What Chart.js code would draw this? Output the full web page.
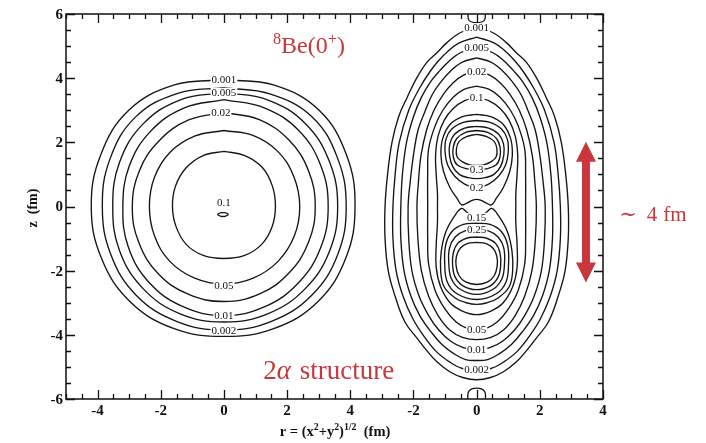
<!DOCTYPE html>
<html>
<head>
<meta charset="utf-8">
<script src="https://cdn.jsdelivr.net/npm/chart.js@4.4.1/dist/chart.umd.min.js"></script>
<style>
  body { margin: 0; background: #fff; }
  canvas { display: block; }
</style>
</head>
<body>
<canvas id="densityChart" width="706" height="443"></canvas>
<script>
// axis ticks: the right panel uses the same r axis shifted by 8 fm
var xTickValues = [-4, -2, 0, 2, 4, 6, 8, 10, 12];
var xTickLabels = ['-4', '-2', '0', '2', '4', '-2', '0', '2', '4'];
var yTickValues = [-6, -4, -2, 0, 2, 4, 6];
var yTickLabels = ['-6', '-4', '-2', '0', '2', '4', '6'];
var panelShift = 8;

// left panel: nearly round contours, radius (fm) every 22.5 deg starting at the top, counter-clockwise
var roundLevels = ['0.001', '0.002', '0.005', '0.01', '0.02', '0.05', '0.08'];
var roundRadii = [
  [3.95, 4.1, 4.25, 4.22, 4.2, 4.2, 4.2, 4.12, 4.05, 4.12, 4.2, 4.18, 4.15, 4.2, 4.25, 4.1],
  [3.7, 3.82, 3.95, 3.9, 3.85, 3.88, 3.92, 3.88, 3.85, 3.88, 3.92, 3.9, 3.87, 3.9, 3.95, 3.8],
  [3.55, 3.6, 3.63, 3.58, 3.52, 3.58, 3.62, 3.62, 3.6, 3.62, 3.63, 3.62, 3.6, 3.62, 3.65, 3.6],
  [3.33, 3.32, 3.3, 3.25, 3.2, 3.28, 3.35, 3.38, 3.4, 3.38, 3.35, 3.32, 3.3, 3.32, 3.35, 3.33],
  [2.93, 2.92, 2.9, 2.9, 2.9, 2.92, 2.95, 2.96, 2.96, 2.95, 2.92, 2.9, 2.89, 2.9, 2.92, 2.93],
  [2.37, 2.38, 2.4, 2.38, 2.36, 2.38, 2.42, 2.42, 2.42, 2.42, 2.42, 2.41, 2.4, 2.4, 2.42, 2.4],
  [1.72, 1.72, 1.7, 1.66, 1.63, 1.64, 1.68, 1.66, 1.62, 1.66, 1.68, 1.65, 1.63, 1.66, 1.72, 1.72]
];
// small 0.1 contour at the centre
var coreCenter = [-0.03, -0.25];
var coreRadii = [0.06, 0.08, 0.17, 0.08, 0.06, 0.08, 0.17, 0.08];

// right panel: [z, half width] along the left half of each contour, top to bottom
var shellLevels = ['0.001', '0.002', '0.005', '0.01', '0.02', '0.05', '0.1'];
var shellProfiles = [
  [[5.6, 0], [5.4, 0.55], [5.1, 0.95], [4.8, 1.25], [4.5, 1.57], [4.0, 1.9], [3.4, 2.2], [2.8, 2.47], [2.0, 2.68], [1.0, 2.82], [0, 2.9], [-1, 2.9], [-2, 2.8], [-2.8, 2.58], [-3.6, 2.27], [-4.1, 1.89], [-4.5, 1.57], [-4.85, 1.25], [-5.15, 0.85], [-5.33, 0.44], [-5.4, 0]],
  [[5.28, 0], [5.1, 0.55], [4.85, 0.9], [4.55, 1.2], [4.2, 1.48], [3.7, 1.8], [3.0, 2.15], [2.0, 2.45], [1.0, 2.58], [0, 2.65], [-1, 2.65], [-2, 2.55], [-2.8, 2.33], [-3.5, 2.02], [-4.0, 1.7], [-4.5, 1.3], [-4.85, 0.85], [-5.05, 0.45], [-5.1, 0]],
  [[4.94, 0], [4.8, 0.5], [4.55, 0.85], [4.25, 1.15], [3.9, 1.45], [3.4, 1.75], [2.8, 2.0], [2.0, 2.22], [1.0, 2.35], [0, 2.4], [-1, 2.4], [-2, 2.3], [-2.8, 2.08], [-3.4, 1.8], [-3.9, 1.45], [-4.3, 1.1], [-4.6, 0.7], [-4.77, 0.35], [-4.8, 0]],
  [[4.63, 0], [4.5, 0.45], [4.25, 0.8], [3.9, 1.12], [3.5, 1.4], [3.0, 1.62], [2.4, 1.85], [1.6, 2.0], [0.8, 2.1], [0, 2.17], [-1, 2.15], [-2, 2.05], [-2.8, 1.82], [-3.4, 1.52], [-3.85, 1.2], [-4.2, 0.82], [-4.4, 0.42], [-4.47, 0]],
  [[4.21, 0], [4.1, 0.4], [3.85, 0.75], [3.5, 1.05], [3.0, 1.35], [2.4, 1.58], [1.6, 1.76], [0.8, 1.84], [0, 1.89], [-1, 1.86], [-2, 1.75], [-2.8, 1.52], [-3.4, 1.22], [-3.85, 0.85], [-4.08, 0.45], [-4.15, 0]],
  [[3.75, 0], [3.65, 0.4], [3.4, 0.75], [3.0, 1.07], [2.5, 1.32], [1.8, 1.52], [1.0, 1.55], [0, 1.55], [-1, 1.55], [-1.8, 1.52], [-2.6, 1.32], [-3.2, 1.0], [-3.6, 0.65], [-3.8, 0.3], [-3.84, 0]],
  [[3.39, 0], [3.3, 0.38], [3.05, 0.75], [2.7, 1.02], [2.2, 1.22], [1.6, 1.3], [1.0, 1.28], [0.4, 1.24], [0, 1.24], [-0.5, 1.24], [-1.2, 1.28], [-1.9, 1.28], [-2.5, 1.14], [-3.0, 0.84], [-3.25, 0.47], [-3.37, 0]]
];
// contours closing around one alpha each
var clusterLevels = ['0.15', '0.2', '0.25', '0.3', '0.35', '0.15', '0.2', '0.25', '0.3', '0.35'];
var clusterProfiles = [
  [[2.87, 0], [2.8, 0.45], [2.55, 0.85], [2.1, 1.08], [1.6, 1.13], [1.1, 1.05], [0.6, 0.85], [0.25, 0.62], [0.05, 0.47], [0.12, 0.28], [0.2, 0.12], [0.22, 0]],
  [[2.68, 0], [2.62, 0.42], [2.42, 0.78], [2.1, 0.97], [1.7, 1.0], [1.3, 0.92], [0.95, 0.7], [0.7, 0.38], [0.59, 0]],
  [[2.5, 0], [2.44, 0.38], [2.25, 0.7], [1.95, 0.85], [1.6, 0.86], [1.25, 0.76], [1.0, 0.55], [0.9, 0.27], [0.87, 0]],
  [[2.37, 0], [2.31, 0.35], [2.12, 0.63], [1.85, 0.74], [1.55, 0.74], [1.3, 0.62], [1.18, 0.34], [1.15, 0]],
  [[2.25, 0], [2.18, 0.32], [2.02, 0.56], [1.8, 0.64], [1.55, 0.62], [1.4, 0.46], [1.3, 0.22], [1.28, 0]],
  [[-0.34, 0], [-0.3, 0.15], [-0.17, 0.32], [-0.06, 0.48], [-0.3, 0.7], [-0.8, 0.98], [-1.4, 1.12], [-2.0, 1.14], [-2.5, 1.03], [-2.85, 0.68], [-3.0, 0.33], [-3.05, 0]],
  [[-0.52, 0], [-0.56, 0.42], [-0.78, 0.78], [-1.2, 0.98], [-1.8, 1.01], [-2.35, 0.93], [-2.72, 0.62], [-2.9, 0]],
  [[-0.72, 0], [-0.76, 0.37], [-0.95, 0.68], [-1.3, 0.86], [-1.8, 0.88], [-2.25, 0.8], [-2.58, 0.52], [-2.74, 0]],
  [[-0.95, 0], [-0.99, 0.32], [-1.15, 0.6], [-1.45, 0.74], [-1.85, 0.76], [-2.2, 0.68], [-2.48, 0.42], [-2.59, 0]],
  [[-1.12, 0], [-1.15, 0.28], [-1.3, 0.52], [-1.55, 0.64], [-1.85, 0.65], [-2.15, 0.56], [-2.35, 0.35], [-2.43, 0]]
];
// little contours touching the top and bottom frame at r = 0
var edgeProfiles = [
  [[6.05, 0.28], [5.8, 0.24], [5.73, 0]],
  [[-6.05, 0.28], [-5.76, 0.25], [-5.66, 0]]
];

// printed contour values: [x, z, text]
var contourLabels = [
  [0, 3.96, '0.001'], [0, 3.56, '0.005'], [-0.1, 2.93, '0.02'], [0, 0.12, '0.1'],
  [0, -2.47, '0.05'], [0, -3.4, '0.01'], [0, -3.87, '0.002'],
  [8, 5.57, '0.001'], [8, 4.94, '0.005'], [8, 4.21, '0.02'], [8, 3.39, '0.1'],
  [8, 1.15, '0.3'], [8, 0.59, '0.2'], [8, -0.34, '0.15'], [8, -0.72, '0.25'],
  [8, -3.83, '0.05'], [8, -4.45, '0.01'], [8, -5.08, '0.002']
];

function ringPoints(radii, cx, cz) {
  var n = radii.length;
  var pts = radii.map(function (r, i) {
    var a = Math.PI / 2 + i * 2 * Math.PI / n;
    return { x: cx + r * Math.cos(a), y: cz + r * Math.sin(a) };
  });
  pts.push(pts[0]);
  return pts;
}

function profilePoints(prof, cx) {
  var pts = prof.map(function (p) { return { x: cx - p[1], y: p[0] }; });
  for (var i = prof.length - 1; i >= 0; i--) {
    if (prof[i][1] === 0) continue;
    pts.push({ x: cx + prof[i][1], y: prof[i][0] });
  }
  pts.push(pts[0]);
  return pts;
}

function openProfile(prof, cx) {
  var pts = prof.map(function (p) { return { x: cx - p[1], y: p[0] }; });
  for (var i = prof.length - 2; i >= 0; i--) {
    pts.push({ x: cx + prof[i][1], y: prof[i][0] });
  }
  return pts;
}

function contour(points, label) {
  return {
    label: label,
    data: points,
    showLine: true,
    borderColor: '#151515',
    borderWidth: 1.35,
    pointRadius: 0,
    tension: 0.4,
    fill: false
  };
}

var datasets = [];
roundRadii.forEach(function (r, i) {
  datasets.push(contour(ringPoints(r, 0, 0), roundLevels[i]));
});
datasets.push(contour(ringPoints(coreRadii, coreCenter[0], coreCenter[1]), '0.1'));
shellProfiles.forEach(function (p, i) {
  datasets.push(contour(profilePoints(p, panelShift), shellLevels[i]));
});
clusterProfiles.forEach(function (p, i) {
  datasets.push(contour(profilePoints(p, panelShift), clusterLevels[i]));
});
edgeProfiles.forEach(function (p) {
  datasets.push(contour(openProfile(p, panelShift), 'edge'));
});

var serif = '"Liberation Serif", "DejaVu Serif", serif';
var red = '#c9363b';

// draws text runs (plain, italic, superscript or a fixed gap) centred on x
function drawRuns(ctx, x, y, runs, size, weight) {
  function fontOf(r) {
    var s = r.sup ? size * 0.68 : size;
    return (r.italic ? 'italic ' : '') + (weight || '') + ' ' + s + 'px ' + serif;
  }
  var w = 0;
  runs.forEach(function (r) {
    if (r.gap) { r.w = r.gap; } else { ctx.font = fontOf(r); r.w = ctx.measureText(r.t).width; }
    w += r.w;
  });
  var cx = x - w / 2;
  ctx.textAlign = 'left';
  ctx.textBaseline = 'alphabetic';
  runs.forEach(function (r) {
    if (!r.gap) {
      ctx.font = fontOf(r);
      ctx.fillText(r.t, cx, r.sup ? y - size * 0.4 : y);
    }
    cx += r.w;
  });
}

var framePlugin = {
  id: 'frame',
  afterDatasetsDraw: function (chart) {
    var ctx = chart.ctx;
    var xs = chart.scales.x, ys = chart.scales.y;
    ctx.save();
    ctx.font = '11px ' + serif;
    ctx.textAlign = 'center';
    ctx.textBaseline = 'middle';
    contourLabels.forEach(function (l) {
      var px = xs.getPixelForValue(l[0]), py = ys.getPixelForValue(l[1]);
      var w = ctx.measureText(l[2]).width;
      ctx.fillStyle = '#fff';
      ctx.fillRect(px - w / 2 - 1, py - 4.5, w + 2, 9);
      ctx.fillStyle = '#111';
      ctx.fillText(l[2], px, py + 0.5);
    });
    ctx.restore();
  },
  afterDraw: function (chart) {
    var ctx = chart.ctx;
    var a = chart.chartArea;
    var xs = chart.scales.x, ys = chart.scales.y;
    ctx.save();
    ctx.strokeStyle = '#111';
    ctx.lineWidth = 1.5;
    ctx.strokeRect(a.left, a.top, a.right - a.left, a.bottom - a.top);
    ctx.lineWidth = 1.3;
    ctx.beginPath();
    for (var v = xs.min; v <= xs.max + 1e-6; v += 0.5) {
      var len = xTickValues.indexOf(v) >= 0 ? 9 : 5;
      var px = Math.round(xs.getPixelForValue(v)) + 0.5;
      ctx.moveTo(px, a.bottom); ctx.lineTo(px, a.bottom - len);
      ctx.moveTo(px, a.top); ctx.lineTo(px, a.top + len);
    }
    for (var z = ys.min; z <= ys.max + 1e-6; z += 0.5) {
      var zl = yTickValues.indexOf(z) >= 0 ? 9 : 5;
      var py = Math.round(ys.getPixelForValue(z)) + 0.5;
      ctx.moveTo(a.left, py); ctx.lineTo(a.left + zl, py);
      ctx.moveTo(a.right, py); ctx.lineTo(a.right - zl, py);
    }
    ctx.stroke();

    // tick labels
    ctx.fillStyle = '#111';
    ctx.font = 'bold 15px ' + serif;
    ctx.textAlign = 'center';
    ctx.textBaseline = 'middle';
    xTickValues.forEach(function (v, i) {
      ctx.fillText(xTickLabels[i], xs.getPixelForValue(v), a.bottom + 12);
    });
    ctx.textAlign = 'right';
    yTickValues.forEach(function (v, i) {
      ctx.fillText(yTickLabels[i], a.left - 3, ys.getPixelForValue(v) + 1);
    });

    // axis titles
    drawRuns(ctx, 335, 436, [
      { t: 'r = (x' }, { t: '2', sup: true }, { t: '+y' }, { t: '2', sup: true },
      { t: ')' }, { t: '1/2', sup: true }, { t: '  (fm)' }
    ], 14.5, 'bold');
    ctx.save();
    ctx.translate(37, 208);
    ctx.rotate(-Math.PI / 2);
    drawRuns(ctx, 0, 0, [{ t: 'z  (fm)' }], 14, 'bold');
    ctx.restore();

    // annotations
    ctx.fillStyle = red;
    drawRuns(ctx, xs.getPixelForValue(2.69), ys.getPixelForValue(4.77), [
      { t: '8', sup: true }, { t: 'Be(0' }, { t: '+', sup: true }, { t: ')' }
    ], 24);
    drawRuns(ctx, xs.getPixelForValue(3.32), ys.getPixelForValue(-5.39), [
      { t: '2' }, { t: 'α', italic: true }, { gap: 2 }, { t: ' structure' }
    ], 27);
    drawRuns(ctx, xs.getPixelForValue(13.58), ys.getPixelForValue(-0.46), [
      { t: '∼' }, { gap: 10 }, { t: '4' }, { gap: 6 }, { t: 'fm' }
    ], 21);

    // double arrow
    var ax = xs.getPixelForValue(11.46);
    var top = ys.getPixelForValue(2.02), bot = ys.getPixelForValue(-2.37);
    ctx.fillStyle = red;
    ctx.fillRect(ax - 4, top + 18, 8, bot - top - 36);
    ctx.beginPath();
    ctx.moveTo(ax, top); ctx.lineTo(ax + 10, top + 20); ctx.lineTo(ax - 10, top + 20); ctx.closePath();
    ctx.moveTo(ax, bot); ctx.lineTo(ax + 10, bot - 20); ctx.lineTo(ax - 10, bot - 20); ctx.closePath();
    ctx.fill();
    ctx.restore();
  }
};

new Chart(document.getElementById('densityChart'), {
  type: 'scatter',
  data: { datasets: datasets },
  options: {
    responsive: false,
    animation: false,
    events: [],
    layout: { padding: { left: 66, right: 103, top: 14, bottom: 44 } },
    plugins: { legend: { display: false }, tooltip: { enabled: false } },
    scales: {
      x: {
        type: 'linear', min: -5, max: 12,
        afterFit: function (s) { s.height = 0; },
        grid: { display: false }, border: { display: false },
        ticks: { display: false }
      },
      y: {
        type: 'linear', min: -6, max: 6,
        afterFit: function (s) { s.width = 0; },
        grid: { display: false }, border: { display: false },
        ticks: { display: false }
      }
    }
  },
  plugins: [framePlugin]
});
</script>
</body>
</html>
